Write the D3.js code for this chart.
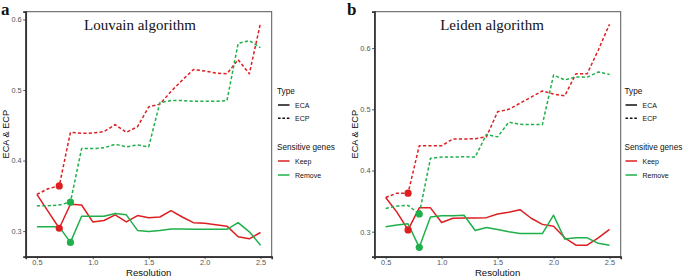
<!DOCTYPE html>
<html><head><meta charset="utf-8">
<script src="https://cdn.jsdelivr.net/npm/d3@7/dist/d3.min.js"></script>
<style>body{margin:0;background:#fff}svg{display:block}</style>
</head><body>
<svg id="chart" width="685" height="276"></svg>
<script>
const resolution = [0.5,0.6,0.7,0.8,0.9,1.0,1.1,1.2,1.3,1.4,1.5,1.6,1.7,1.8,1.9,2.0,2.1,2.2,2.3,2.4,2.5];
const xTicks = [0.5,1.0,1.5,2.0,2.5];
const yTicks = [0.3,0.4,0.5,0.6];

// Louvain
const louvainECAKeep   = [0.352,0.328,0.304,0.338,0.337,0.313,0.315,0.323,0.313,0.322,0.319,0.320,0.329,0.320,0.312,0.311,0.309,0.307,0.292,0.289,0.298];
const louvainECARemove = [0.306,0.306,0.306,0.284,0.321,0.321,0.321,0.325,0.323,0.301,0.2995,0.301,0.303,0.303,0.3025,0.3025,0.3025,0.3025,0.312,0.299,0.280];
const louvainECPKeep   = [0.352,0.360,0.364,0.440,0.4386,0.439,0.441,0.451,0.440,0.448,0.476,0.480,0.498,0.514,0.529,0.527,0.524,0.523,0.543,0.523,0.595];
const louvainECPRemove = [0.336,0.336,0.337,0.341,0.417,0.417,0.418,0.423,0.4195,0.422,0.4195,0.482,0.485,0.485,0.484,0.484,0.484,0.485,0.566,0.570,0.560];

// Leiden
const leidenECAKeep    = [0.356,0.332,0.303,0.339,0.339,0.315,0.322,0.3225,0.3225,0.323,0.329,0.332,0.336,0.322,0.312,0.309,0.290,0.278,0.278,0.290,0.304];
const leidenECARemove  = [0.308,0.311,0.313,0.2745,0.324,0.326,0.326,0.327,0.302,0.307,0.3035,0.300,0.297,0.297,0.297,0.327,0.288,0.290,0.290,0.281,0.278];
const leidenECPKeep    = [0.356,0.363,0.363,0.4405,0.4405,0.4405,0.4515,0.4515,0.452,0.455,0.496,0.500,0.510,0.520,0.530,0.525,0.522,0.558,0.558,0.597,0.639];
const leidenECPRemove  = [0.338,0.342,0.343,0.329,0.420,0.422,0.422,0.4225,0.422,0.459,0.455,0.479,0.4755,0.475,0.475,0.556,0.548,0.553,0.5525,0.561,0.557];

// highlighted (optimal) resolutions
const keepBest = 0.7;
const removeBest = 0.8;

const typeLabels = ["ECA","ECP"];
const geneLabels = ["Keep","Remove"];
const colors = {Keep:"#dd1f22", Remove:"#1fb04a"};

const panels = [
  {tag:"a", title:"Louvain algorithm", x0:25.7, x1:271.7, yDomain:[0.2637,0.611],
   titleX:140, legendX:277, tagX:1,
   series:[
     {type:"ECA", gene:"Keep", values:louvainECAKeep},
     {type:"ECA", gene:"Remove", values:louvainECARemove},
     {type:"ECP", gene:"Keep", values:louvainECPKeep},
     {type:"ECP", gene:"Remove", values:louvainECPRemove}]},
  {tag:"b", title:"Leiden algorithm", x0:374.5, x1:620.7, yDomain:[0.2592,0.6595],
   titleX:492, legendX:624.5, tagX:347,
   series:[
     {type:"ECA", gene:"Keep", values:leidenECAKeep},
     {type:"ECA", gene:"Remove", values:leidenECARemove},
     {type:"ECP", gene:"Keep", values:leidenECPKeep},
     {type:"ECP", gene:"Remove", values:leidenECPRemove}]}
];

const svg = d3.select("#chart");
const plotTop = 11.7, plotBottom = 256.7;
const sans = "'Liberation Sans', Arial, Helvetica, sans-serif";
const serif = "'Liberation Serif', 'Times New Roman', serif";
const dashPattern = "3.2,2.2";

panels.forEach(p => {
  const x = d3.scaleLinear().domain([0.4,2.6]).range([p.x0,p.x1]);
  const y = d3.scaleLinear().domain(p.yDomain).range([plotBottom, plotTop]);
  const g = svg.append("g");

  g.append("rect").attr("x",p.x0).attr("y",plotTop).attr("width",p.x1-p.x0).attr("height",plotBottom-plotTop)
    .attr("fill","none").attr("stroke","#555").attr("stroke-width",1);

  const line = d3.line().x((d,i)=>x(resolution[i])).y(d=>y(d));
  p.series.forEach(s => {
    g.append("path").attr("d", line(s.values)).attr("fill","none")
      .attr("stroke", colors[s.gene]).attr("stroke-width",1.5)
      .attr("stroke-dasharray", s.type==="ECP" ? dashPattern : null)
      .attr("stroke-linejoin","round");
  });

  p.series.forEach(s => {
    const r = s.gene==="Keep" ? keepBest : removeBest;
    const i = resolution.findIndex(v => Math.abs(v-r)<1e-9);
    g.append("circle").attr("cx",x(resolution[i])).attr("cy",y(s.values[i])).attr("r",3.6)
      .attr("fill",colors[s.gene]);
  });

  const xAxis = d3.axisBottom(x).tickValues(xTicks).tickFormat(d3.format(".1f")).tickSize(2.5).tickPadding(0.8);
  const yAxis = d3.axisLeft(y).tickValues(yTicks).tickFormat(d3.format(".1f")).tickSize(2.5).tickPadding(1.5);
  const gx = g.append("g").attr("transform",`translate(0,${plotBottom})`).call(xAxis);
  const gy = g.append("g").attr("transform",`translate(${p.x0},0)`).call(yAxis);
  [gx,gy].forEach(a => {
    a.select(".domain").attr("stroke","#333").attr("stroke-width",1.7);
    a.selectAll(".tick line").attr("stroke","#333").attr("stroke-width",0.8);
    a.selectAll(".tick text").attr("fill","#555").attr("font-size",7.4).attr("font-family",sans);
  });

  g.append("text").attr("x",(p.x0+p.x1)/2).attr("y",275.5).attr("text-anchor","middle")
    .attr("font-family",sans).attr("font-size",9.6).attr("fill","#111").text("Resolution");
  g.append("text").attr("transform",`translate(${p.x0-17},${(plotTop+plotBottom)/2}) rotate(-90)`)
    .attr("text-anchor","middle").attr("font-family",sans).attr("font-size",9.2).attr("fill","#111").text("ECA & ECP");

  g.append("text").attr("x",p.titleX).attr("y",30).attr("text-anchor","middle")
    .attr("font-family",serif).attr("font-size",15).attr("fill","#111").text(p.title);

  svg.append("text").attr("x",p.tagX).attr("y",15).attr("font-family",serif).attr("font-weight","bold")
    .attr("font-size",17).attr("fill","#111").text(p.tag);

  const lg = g.append("g").attr("transform",`translate(${p.legendX},0)`);
  lg.append("text").attr("x",0).attr("y",93.5).attr("font-family",sans).attr("font-size",8.2).attr("fill","#111").text("Type");
  typeLabels.forEach((t,i) => {
    const yy = 105 + i*13.3;
    lg.append("line").attr("x1",1).attr("x2",12.5).attr("y1",yy).attr("y2",yy)
      .attr("stroke","#111").attr("stroke-width",1.5).attr("stroke-dasharray", t==="ECP"?"2.6,1.8":null);
    lg.append("text").attr("x",18).attr("y",yy+2.5).attr("font-family",sans).attr("font-size",7).attr("fill","#111").text(t);
  });
  lg.append("text").attr("x",0).attr("y",149.8).attr("font-family",sans).attr("font-size",8.2).attr("fill","#111").text("Sensitive genes");
  geneLabels.forEach((t,i) => {
    const yy = 161 + i*14;
    lg.append("line").attr("x1",1).attr("x2",12.5).attr("y1",yy).attr("y2",yy)
      .attr("stroke",colors[t]).attr("stroke-width",1.5);
    lg.append("text").attr("x",18).attr("y",yy+2.5).attr("font-family",sans).attr("font-size",7).attr("fill","#111").text(t);
  });
});
</script>
</body></html>
